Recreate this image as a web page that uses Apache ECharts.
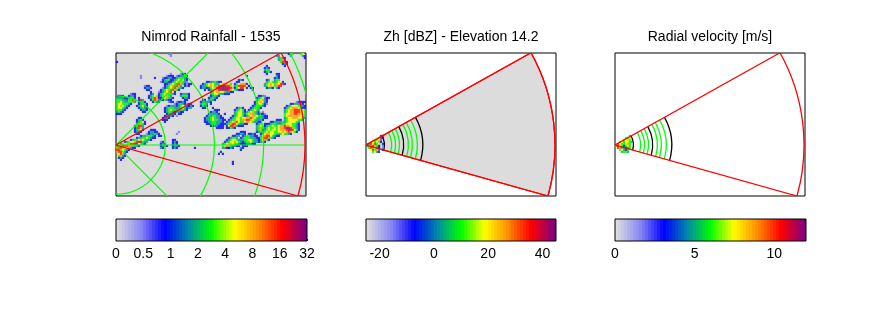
<!DOCTYPE html>
<html>
<head>
<meta charset="utf-8">
<title>Radar panels</title>
<script src="https://cdn.jsdelivr.net/npm/echarts@6/dist/echarts.min.js"></script>
<style>
  html, body { margin: 0; padding: 0; background: #fff; }
  #chart { width: 889px; height: 333px; }
</style>
</head>
<body>
<div id="chart"></div>
<script>
// Chart data
// ------------------------------

var panelTitles = ["Nimrod Rainfall - 1535", "Zh [dBZ] - Elevation 14.2", "Radial velocity [m/s]"];

// Colour bars: axis range, tick positions, tick labels
var rainBarRange = [0, 7];
var rainBarTicks = [0, 1, 2, 3, 4, 5, 6, 7];
var rainBarLabels = ["0", "0.5", "1", "2", "4", "8", "16", "32"];
var zhBarRange = [-25, 45];
var zhBarTicks = [-20, 0, 20, 40];
var velBarRange = [0, 12];
var velBarTicks = [0, 5, 10];

// Colour steps of the bars (index into the colour ramp)
var barSteps = [
  0, 1, 2, 3, 4, 5, 6, 7, 8, 9, 10, 11, 12, 13, 14, 15,
  16, 17, 18, 19, 20, 21, 22, 23, 24, 25, 26, 27, 28, 29, 30, 31,
  32, 33, 34, 35, 36, 37, 38, 39, 40, 41, 42, 43, 44, 45, 46, 47,
  48, 49, 50, 51, 52, 53, 54, 55, 56, 57, 58, 59, 60, 61, 62, 63
];

// Field classes 1..8 as a position on the colour ramp
var classSteps = [0, 9, 16, 25, 31, 39, 46, 54, 61];

// Radar sector, km and degrees
var sectorRange = [192];
var sectorTop = [29.2];
var sectorBottom = [15.65];

// Rainfall panel overlay
var mapRings = [50, 100, 150, 200];
var mapSpokes = [[200, 200], [200, 0], [200, -200]];

// Range gates of the scan panels, km
var gateRingsBlack = [18.7, 38.2, 57.6];
var gateRingsGreen = [10, 14, 26, 30, 34, 43, 47, 52];

// Rainfall cells: [row, first column, classes]
var rainCells = [
  // scattered specks
  [0, 26, "11"], [1, 27, "1"], [4, 0, "2"], [11, 12, "1"], [12, 12, "1"], [12, 19, "2"],
  [47, 39, "2"], [49, 52, "2"], [50, 51, "2"], [50, 53, "2"], [54, 58, "2"], [55, 58, "2"], [40, 30, "1"], [39, 31, "1"],
  [11, 65, "2"], [16, 66, "1"], [31, 30, "1"], [22, 75, "1"], [29, 73, "1"],

  // cluster north of the first ring
  [10, 27, "1"], [10, 32, "122"], [11, 25, "1222"], [11, 30, "123342"], [12, 23, "122332"], [12, 29, "2344432"],
  [13, 23, "23442"], [13, 28, "23456532"], [14, 22, "12332"], [14, 27, "234566431"], [15, 24, "22"], [15, 26, "3456776421"], [15, 36, "22"],
  [16, 14, "122"], [16, 24, "234567763"], [16, 34, "232"], [17, 14, "2332"], [17, 23, "12345676432"],
  [18, 15, "22"], [18, 22, "2345677642"], [19, 17, "2"], [19, 21, "123456752"], [20, 17, "23"], [20, 21, "234564432"], [20, 32, "23332"],
  [21, 16, "234562345643"], [21, 32, "34442"], [22, 16, "2347622456432"], [22, 33, "2332"], [23, 17, "2476322"], [23, 24, "4322"], [23, 34, "22"],
  [24, 18, "2432"], [24, 26, "122"],

  // band on the left edge
  [20, 7, "122"], [21, 0, "2222"], [21, 6, "2332"], [22, 0, "33332"], [22, 5, "23442"], [22, 11, "2"],
  [23, 0, "444332"], [23, 5, "34452"], [23, 8, "76"], [23, 11, "273"], [24, 0, "44543344"], [24, 8, "43"], [24, 11, "2342"],
  [25, 0, "45544432"], [25, 11, "23442"], [26, 0, "4565432"], [26, 10, "234532"], [27, 0, "455432"], [27, 11, "23432"],
  [28, 0, "44432"], [28, 12, "2332"], [29, 0, "3432"], [29, 13, "22"], [30, 0, "222"],

  // blob under the cluster
  [24, 30, "12232"], [25, 29, "123432"], [25, 35, "122"], [26, 25, "123332"], [26, 31, "345432"], [26, 36, "232"],
  [27, 24, "2344433"], [27, 31, "34542"], [27, 36, "33"], [28, 24, "2345443"], [28, 31, "44432"], [29, 24, "234432"], [29, 30, "3322"],
  [30, 25, "23332"], [30, 31, "22"], [31, 24, "23332"], [32, 23, "2332"], [33, 23, "222"], [34, 24, "2"],

  // small cell above the sector edge
  [32, 11, "22"], [33, 10, "2342"], [34, 10, "23452"], [35, 10, "34642"], [36, 9, "24773"], [37, 9, "23763"], [38, 9, "23452"], [39, 9, "2332"], [40, 10, "22"],

  // band from the radar
  [38, 17, "222"], [39, 16, "23322"], [40, 15, "1233432"], [41, 12, "23344432"], [41, 21, "22"], [42, 10, "2334454322"],
  [43, 7, "23445654332"], [44, 4, "234556788433"], [45, 2, "3456677885432"], [46, 0, "456777664432"], [47, 0, "6776554322"],
  [48, 0, "7765432"], [49, 0, "677532"], [50, 1, "5762"], [51, 1, "4632"], [52, 1, "232"], [53, 2, "2"],
  [44, 22, "12"], [45, 22, "232"], [46, 22, "2332"], [47, 22, "32"], [43, 28, "22"], [44, 28, "232"], [45, 28, "232"], [46, 28, "2332"], [47, 28, "232"],

  // bright streak on the sector edge
  [13, 61, "232"], [14, 45, "22334322"], [14, 60, "22"], [15, 43, "23456543"], [15, 51, "4566654"], [15, 59, "2456662"],
  [16, 42, "23345654"], [16, 50, "67888776"], [16, 59, "34777752"], [17, 42, "23322"], [17, 46, "34567888888762"], [17, 60, "457752"], [17, 67, "22"],
  [18, 44, "2"], [18, 46, "2345678888765432"], [18, 62, "22"], [18, 68, "2"], [19, 47, "345665543322"], [20, 47, "3455433222"],
  [21, 47, "23432"], [22, 46, "23432"], [23, 43, "22"], [23, 46, "3432"], [24, 42, "233"], [24, 45, "332"], [25, 42, "3443"], [25, 47, "2"],
  [26, 42, "2432"], [27, 43, "22"], [27, 48, "2"],

  // blue and green blob on the second ring
  [28, 49, "222"], [29, 47, "2332"], [30, 46, "233332"], [30, 54, "2"], [31, 45, "23344332"], [32, 44, "2334543322"],
  [33, 44, "23345443322"], [34, 44, "2233443332"], [35, 45, "2234433222"], [36, 47, "2233222"], [37, 50, "2222"], [37, 55, "2"],

  // chain towards the third ring
  [21, 71, "2231"], [22, 70, "2345322"], [23, 70, "345632"], [24, 69, "2456532"], [25, 69, "2455421"], [26, 68, "2344432"],
  [27, 60, "2342"], [27, 67, "234432"], [28, 59, "234542"], [28, 66, "234543"], [29, 59, "345542"], [29, 65, "3456432"],
  [30, 59, "345543"], [30, 64, "34566432221"], [31, 58, "234554234566543322"], [32, 57, "2345545566765433322"],
  [33, 56, "234455466776543332"], [34, 55, "234567544566543322"], [35, 55, "34677543322"], [35, 70, "23452"],
  [36, 55, "257763222"], [36, 70, "34553"], [37, 56, "2432"], [37, 70, "34663"], [38, 70, "3465"], [39, 70, "2344"],

  // large system at the right edge
  [24, 90, "12222"], [25, 87, "2233332"], [26, 85, "2345554432"], [27, 84, "234566654"], [27, 93, "22"], [28, 84, "34566777654"],
  [29, 84, "345667776542"], [30, 84, "455667766543"], [31, 84, "45666666554"], [32, 84, "34556665543"], [33, 80, "222"], [33, 84, "3455555443"],
  [34, 77, "2233"], [34, 81, "334"], [34, 84, "34555543"], [35, 75, "2234433"], [35, 82, "3445554432"], [36, 74, "234454"], [36, 80, "456676654432"],
  [37, 74, "3454454"], [37, 81, "56678876432"], [38, 73, "2345455"], [38, 80, "456667887542"], [39, 73, "3454554"], [39, 80, "45565676542"],
  [40, 72, "23566554"], [40, 80, "43454432"], [41, 72, "3567754322"], [42, 72, "46776432"], [43, 71, "235642"], [44, 72, "342"],

  // long band under the chain
  [39, 62, "222"], [40, 60, "22332"], [40, 66, "2232"], [41, 58, "2233"], [41, 63, "23443322"], [42, 56, "23443"], [42, 62, "2344433322"],
  [43, 55, "2345543"], [43, 62, "3344554332"], [44, 54, "2345565432"], [44, 64, "34454332"], [45, 53, "3456654432"], [45, 63, "2233322"],
  [46, 53, "456543322"], [46, 63, "222"], [47, 53, "3322"], [47, 56, "232"], [47, 62, "32"], [48, 62, "2"],

  // cells east of the streak
  [10, 80, "22"], [11, 80, "32"], [12, 79, "232"], [13, 75, "23"], [13, 79, "344"], [14, 75, "34543"], [14, 80, "4552"],
  [15, 74, "34565465772"], [16, 74, "345654677"], [17, 75, "2332"], [17, 80, "32"],
  [6, 75, "2"], [7, 74, "232"], [8, 74, "344"], [9, 74, "2342"], [10, 75, "2"],

  // top right corner
  [0, 86, "244"], [0, 92, "45"], [1, 93, "32"], [2, 94, "2"], [1, 80, "33"], [1, 87, "3"], [2, 81, "343"], [2, 84, "2"],
  [3, 81, "3467"], [4, 82, "4772"], [5, 83, "232"], [6, 84, "2"]
];

// Reflectivity and velocity close to the radar: [row, first column, classes]
var zhCells = [
  [41, 7, "27"], [42, 5, "5"], [42, 7, "72"], [43, 4, "4453"], [44, 3, "54562"], [45, 1, "37"], [45, 3, "5745"], [45, 8, "2"],
  [46, 0, "34"], [46, 2, "6"], [46, 3, "7642"], [46, 8, "1"], [47, 1, "47"], [47, 3, "4572"], [47, 8, "1"],
  [48, 2, "57463"], [48, 8, "2"], [49, 3, "4532"]
];
var velCells = [
  [41, 7, "3"], [42, 5, "445"], [43, 4, "4554"], [44, 2, "45"], [44, 4, "45543"], [45, 1, "75"], [45, 3, "44564"], [46, 0, "67"], [46, 2, "5"], [46, 3, "42454"],
  [47, 1, "76"], [47, 3, "34234"], [48, 2, "45324"], [49, 3, "3443"]
];

// Setup module
// ------------------------------

var RadarPanels = (function () {
  // Map scale: one raster cell in km, and the radar's place in the frame
  var CELL_KM = 2.03;
  var X_MAX = 193;
  var Y_MAX = 93.5;
  var Y_MIN = -51.8;

  var frameLefts = [116, 366, 615];
  var barLefts = [116, 366, 615];
  var barWidths = [191, 190, 191];
  var barRanges = [rainBarRange, zhBarRange, velBarRange];
  var barTicks = [rainBarTicks, zhBarTicks, velBarTicks];

  var expandCells = function (rows) {
    var out = [];
    rows.forEach(function (row) {
      row[2].split("").forEach(function (ch, i) {
        out.push([
          (row[1] + i + 0.5) * CELL_KM,
          Y_MAX - (row[0] + 0.5) * CELL_KM,
          classSteps[+ch],
        ]);
      });
    });
    return out;
  };

  var barData = function (range) {
    var span = (range[1] - range[0]) / barSteps.length;
    return barSteps.map(function (step) {
      return [range[0] + step * span, range[0] + (step + 1) * span, step];
    });
  };

  // Custom items
  var sectorItem = function (fill) {
    return function (params, api) {
      var c = api.coord([0, 0]);
      return {
        type: "sector",
        shape: {
          cx: c[0],
          cy: c[1],
          r0: 0,
          r: api.size([api.value(0), 0])[0],
          startAngle: (-api.value(1) * Math.PI) / 180,
          endAngle: (api.value(2) * Math.PI) / 180,
          clockwise: true,
        },
        style: { fill: fill, stroke: "#ff0000", lineWidth: 1.3 },
      };
    };
  };

  var ringItem = function (color, width, clipped) {
    return function (params, api) {
      var c = api.coord([0, 0]);
      return {
        type: "arc",
        shape: {
          cx: c[0],
          cy: c[1],
          r: api.size([api.value(0), 0])[0],
          startAngle: clipped ? (-sectorTop[0] * Math.PI) / 180 : 0,
          endAngle: clipped ? (sectorBottom[0] * Math.PI) / 180 : Math.PI * 2,
          clockwise: true,
        },
        style: { fill: "none", stroke: color, lineWidth: width },
      };
    };
  };

  var spokeItem = function (params, api) {
    var a = api.coord([0, 0]);
    var b = api.coord([api.value(0), api.value(1)]);
    return {
      type: "line",
      shape: { x1: a[0], y1: a[1], x2: b[0], y2: b[1] },
      style: { stroke: "#00ff00", lineWidth: 1.2 },
    };
  };

  var barItem = function (params, api) {
    var a = api.coord([api.value(0), 1]);
    var b = api.coord([api.value(1), 0]);
    var x = Math.round(a[0]);
    return {
      type: "rect",
      shape: { x: x, y: a[1], width: Math.round(b[0]) - x, height: b[1] - a[1] },
      style: { fill: api.visual("color") },
    };
  };

  var custom = function (axis, render, data, z) {
    return {
      type: "custom",
      xAxisIndex: axis,
      yAxisIndex: axis,
      renderItem: render,
      data: data,
      clip: true,
      silent: true,
      z: z,
    };
  };

  var field = function (axis, rows) {
    return {
      type: "scatter",
      xAxisIndex: axis,
      yAxisIndex: axis,
      symbol: "rect",
      symbolSize: 2.2,
      data: expandCells(rows),
      silent: true,
      z: 3,
    };
  };

  var _build = function () {
    if (typeof echarts == "undefined") {
      console.warn("Warning - echarts.min.js is not loaded.");
      return;
    }

    var chart_element = document.getElementById("chart");
    if (!chart_element) {
      return;
    }
    var chart = echarts.init(chart_element, null, { renderer: "canvas" });

    var grids = [];
    var xAxes = [];
    var yAxes = [];
    var titles = [];

    frameLefts.forEach(function (left, i) {
      grids.push({
        left: left,
        top: 53,
        width: 190,
        height: 143,
        show: true,
        backgroundColor: i === 0 ? "#dcdcdc" : "#ffffff",
        borderColor: "#000000",
        borderWidth: 1,
      });
      xAxes.push({ gridIndex: i, type: "value", min: 0, max: X_MAX, show: false });
      yAxes.push({ gridIndex: i, type: "value", min: Y_MIN, max: Y_MAX, show: false });
      titles.push({
        text: panelTitles[i],
        left: left + 95,
        top: 30,
        padding: 0,
        textAlign: "center",
        textStyle: {
          color: "#000000",
          fontFamily: "Liberation Sans",
          fontSize: 14,
          fontWeight: "normal",
        },
      });
    });

    barLefts.forEach(function (left, i) {
      var g = i + 3;
      grids.push({
        left: left,
        top: 219,
        width: barWidths[i],
        height: 22,
        show: true,
        borderColor: "#000000",
        borderWidth: 1,
        z: 5,
      });
      xAxes.push({
        gridIndex: g,
        type: "value",
        min: barRanges[i][0],
        max: barRanges[i][1],
        position: "bottom",
        axisLine: { show: false },
        splitLine: { show: false },
        axisTick: {
          show: true,
          inside: true,
          length: 2,
          customValues: barTicks[i],
          lineStyle: { color: "#000000" },
        },
        axisLabel: {
          show: true,
          margin: 6,
          customValues: barTicks[i],
          hideOverlap: false,
          color: "#000000",
          fontFamily: "Liberation Sans",
          fontSize: 14,
          formatter: function (value) {
            return i === 0 ? rainBarLabels[rainBarTicks.indexOf(value)] : String(value);
          },
        },
      });
      yAxes.push({ gridIndex: g, type: "value", min: 0, max: 1, show: false });
    });

    var sectorData = [[sectorRange[0], sectorTop[0], sectorBottom[0]]];
    var ringRows = function (list) {
      return list.map(function (r) {
        return [r];
      });
    };

    var series = [
      field(0, rainCells),
      custom(0, ringItem("#00ff00", 1.2, false), ringRows(mapRings), 4),
      custom(0, spokeItem, mapSpokes, 4),
      custom(0, sectorItem("none"), sectorData, 5),

      custom(1, sectorItem("#dcdcdc"), sectorData, 1),
      custom(1, ringItem("#00ff00", 1.3, true), ringRows(gateRingsGreen), 2),
      custom(1, ringItem("#000000", 1.3, true), ringRows(gateRingsBlack), 2),
      field(1, zhCells),
      custom(1, sectorItem("none"), sectorData, 5),

      custom(2, ringItem("#00ff00", 1.3, true), ringRows(gateRingsGreen), 2),
      custom(2, ringItem("#000000", 1.3, true), ringRows(gateRingsBlack), 2),
      field(2, velCells),
      custom(2, sectorItem("none"), sectorData, 5),

      custom(3, barItem, barData(barRanges[0]), 2),
      custom(4, barItem, barData(barRanges[1]), 2),
      custom(5, barItem, barData(barRanges[2]), 2),
    ];

    var coloured = [0, 7, 11, 13, 14, 15];

    chart.setOption({
      animation: false,
      backgroundColor: "#ffffff",
      title: titles,
      grid: grids,
      xAxis: xAxes,
      yAxis: yAxes,
      visualMap: {
        show: false,
        min: 0,
        max: 63,
        dimension: 2,
        seriesIndex: coloured,
        inRange: {
          color: [
            "#dcdce0", "#8888f4", "#0000ff", "#0088aa", "#00ff00",
            "#ffff00", "#ff8c00", "#ff0000", "#800080",
          ],
        },
      },
      series: series,
    });
  };

  return {
    init: function () {
      _build();
    },
  };
})();

// Initialize module
// ------------------------------

document.addEventListener("DOMContentLoaded", function () {
  RadarPanels.init();
});
</script>
</body>
</html>
